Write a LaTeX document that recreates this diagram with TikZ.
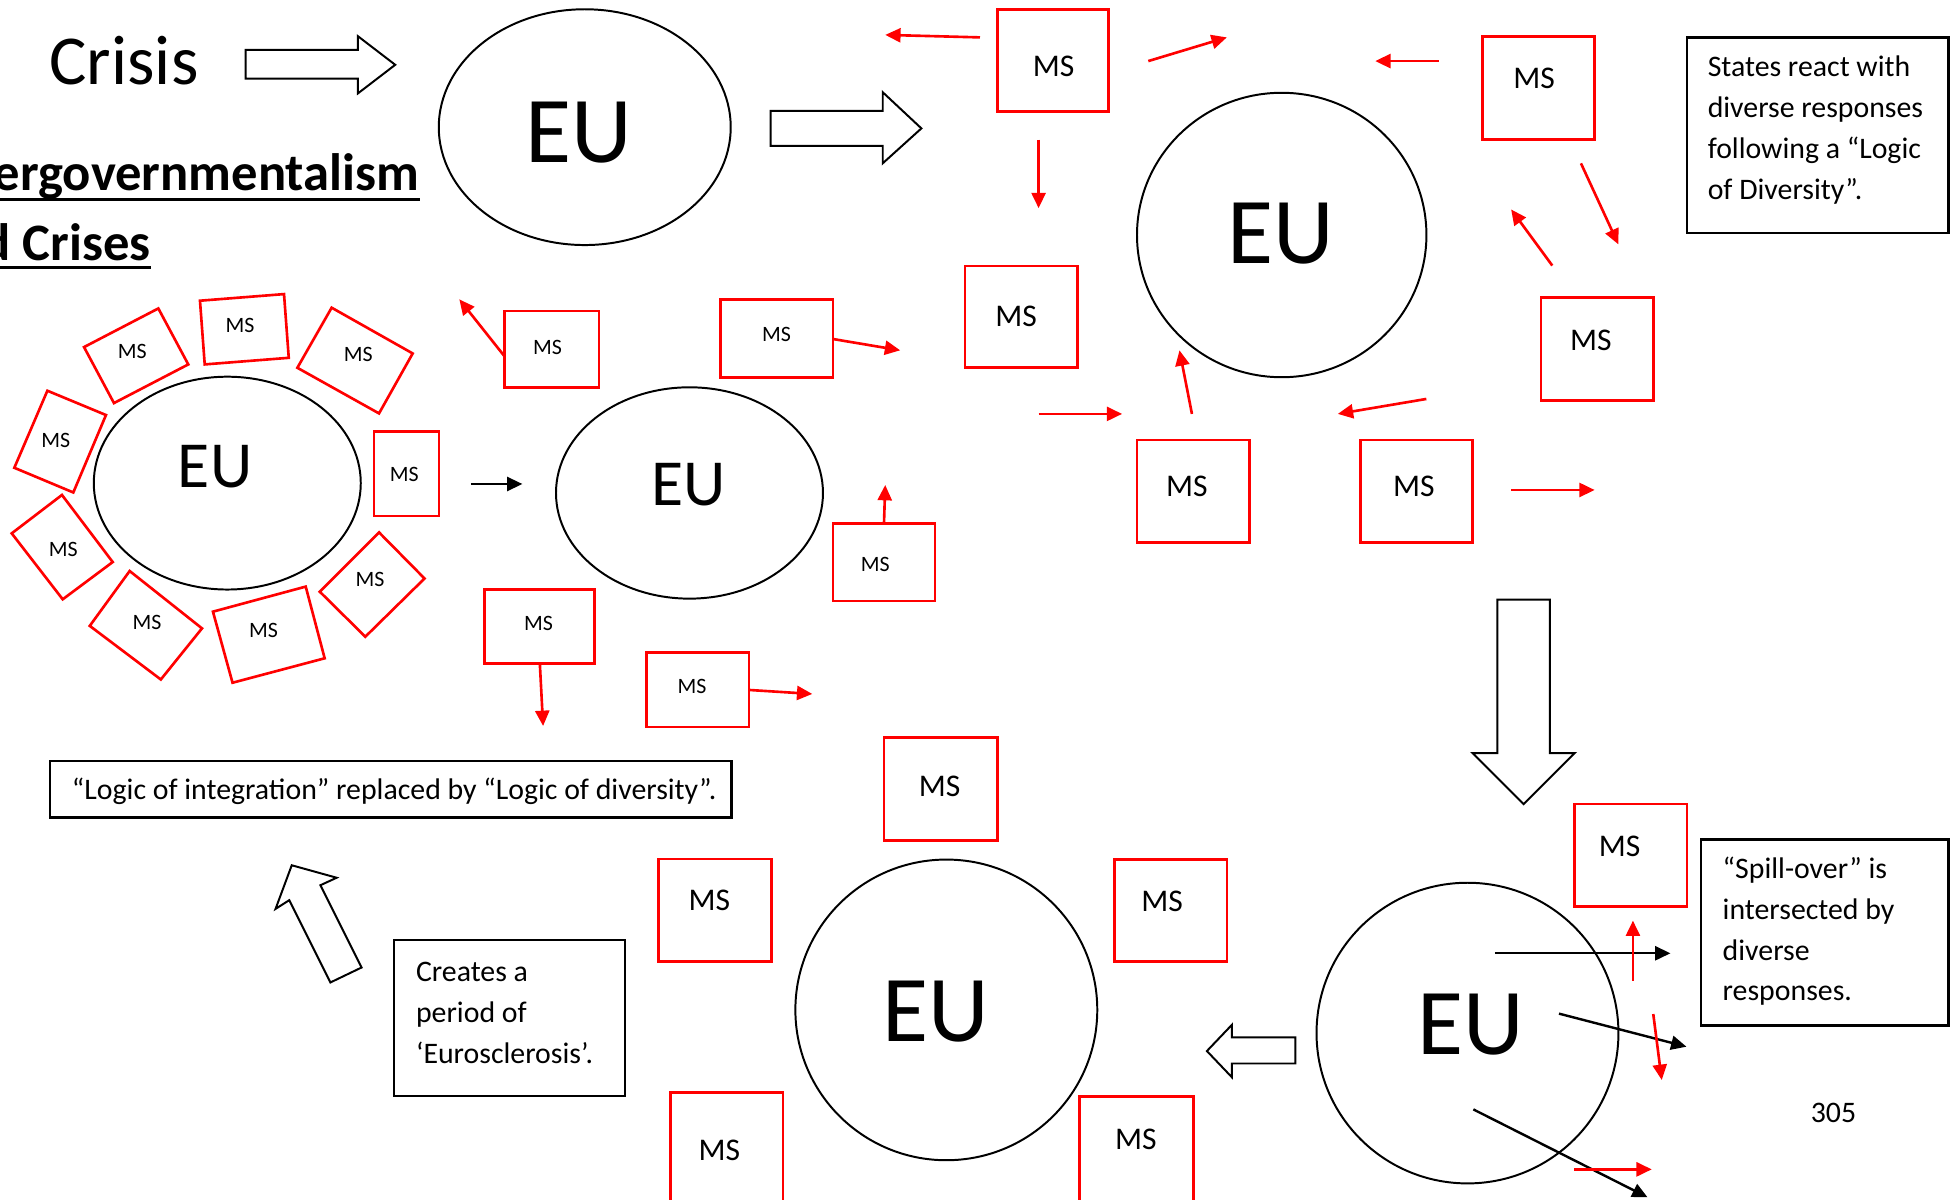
\documentclass[tikz,border=0pt]{standalone}
\usepackage{fontspec}
\setmainfont{Carlito}
\usetikzlibrary{arrows.meta}

\begin{document}
\begin{tikzpicture}[x=0.01cm, y=-0.01cm,
    msline/.style={draw=red, line width=0.6pt},
    msbig/.style={font=\fontsize{7.2}{8.5}\selectfont, inner sep=0pt},
    mssmall/.style={font=\fontsize{5}{6}\selectfont, inner sep=0pt},
    eubig/.style={font=\fontsize{21.5}{25}\selectfont, inner sep=0pt},
    eusmall/.style={font=\fontsize{15}{18}\selectfont, inner sep=0pt},
    euline/.style={draw=black, line width=0.45pt},
    redarrow/.style={draw=red, line width=0.6pt, -{Triangle[length=3.5pt, width=3.2pt]}},
    blackarrow/.style={draw=black, line width=0.55pt, -{Triangle[length=3.5pt, width=3.2pt]}},
    hollow/.style={draw=black, line width=0.45pt},
    notebox/.style={draw=black, line width=0.6pt},
    notetext/.style={font=\fontsize{6.8}{9.3}\selectfont, align=left, anchor=north west, inner sep=0pt},
    titlefont/.style={font=\bfseries\fontsize{12}{14}\selectfont, anchor=base east, inner sep=0pt}]
  \useasboundingbox (0,0) rectangle (1568,962);
  \clip (0,0) rectangle (1568,962);

  % heading
  \node[font=\fontsize{16}{19}\selectfont, anchor=base, inner sep=0pt] (crisis) at (99.5,68) {Crisis};
  \node[titlefont] (titleA) at (337,152.5) {ergovernmentalism};
  \node[titlefont] (titleB) at (121.5,208.6) {d Crises};
  \coordinate (ulA) at (0,160);
  \coordinate (ulB) at (0,214.5);
  \draw[line width=0.75pt] (ulA) -- (titleA.east |- ulA);
  \draw[line width=0.75pt] (ulB) -- (titleB.east |- ulB);

  % block arrows
  \draw[hollow] (197,40) -- (287,40) -- (287,29) -- (317,52) -- (287,75) -- (287,63) -- (197,63) -- cycle;
  \draw[hollow] (618,89) -- (708,89) -- (708,74) -- (739,103) -- (708,131) -- (708,117) -- (618,117) -- cycle;
  \draw[hollow] (1201,481) -- (1243,481) -- (1243,604) -- (1263,604) -- (1222,645) -- (1181,604) -- (1201,604) -- cycle;
  \draw[hollow] (1039,832) -- (988,832) -- (988,822) -- (968,843) -- (988,864) -- (988,853) -- (1039,853) -- cycle;
  \draw[hollow] (290,776) -- (257,710) -- (270,704) -- (234,694) -- (221,729) -- (232,722) -- (265,788) -- cycle;

  % EU circles
  \draw[euline] (469,102) ellipse [x radius=1.17cm, y radius=0.945cm];
  \node[eubig] (euTop) at (464,106) {EU};
  \draw[euline] (1028,188.5) ellipse [x radius=1.16cm, y radius=1.14cm];
  \node[eubig] (euRight) at (1027,187) {EU};
  \draw[euline] (759,810) ellipse [x radius=1.21cm, y radius=1.205cm];
  \node[eubig] (euBottom) at (750.5,811) {EU};
  \draw[euline] (1177,828.6) ellipse [x radius=1.21cm, y radius=1.205cm];
  \node[eubig] (euCorner) at (1180,821.6) {EU};
  \draw[euline] (182.3,387.5) ellipse [x radius=1.07cm, y radius=0.853cm];
  \node[eusmall] (euRing) at (172.5,374.4) {EU};
  \draw[euline] (553,395.4) ellipse [x radius=1.07cm, y radius=0.847cm];
  \node[eusmall] (euMiddle) at (552,389) {EU};

  % ring of member states
  \draw[msline] (67.4,278.4) -- (127,247.4) -- (151,292.3) -- (91.4,323.3) -- cycle;
  \node[mssmall] (ringA) at (106.1,281.6) {MS};
  \draw[msline] (160.4,241.2) -- (227.8,235.9) -- (231.6,287) -- (164.2,292.3) -- cycle;
  \node[mssmall] (ringB) at (192.5,261.3) {MS};
  \draw[msline] (266,246.8) -- (331,283.5) -- (304,331.6) -- (238.5,295) -- cycle;
  \node[mssmall] (ringC) at (287.4,284.3) {MS};
  \draw[msline] (38,313.4) -- (85,332.9) -- (58.8,395) -- (11.5,375.2) -- cycle;
  \node[mssmall] (ringD) at (44.7,353) {MS};
  \draw[msline] (300,346) rectangle (352,414);
  \node[mssmall] (ringE) at (324.3,380.2) {MS};
  \draw[msline] (9.4,427.8) -- (49.7,397) -- (90.4,450.8) -- (50.3,480.7) -- cycle;
  \node[mssmall] (ringF) at (50.8,440.6) {MS};
  \draw[msline] (304,427) -- (340.5,464) -- (293,510.7) -- (256.5,474.6) -- cycle;
  \node[mssmall] (ringG) at (296.8,464.7) {MS};
  \draw[msline] (104,458) -- (162,504) -- (129,545) -- (72,502) -- cycle;
  \node[mssmall] (ringH) at (118,499) {MS};
  \draw[msline] (170.8,490.6) -- (245.2,470.5) -- (260.4,528) -- (186.5,547.6) -- cycle;
  \node[mssmall] (ringI) at (211.3,505.8) {MS};
  \draw[blackarrow] (377.7,388.2) -- (419,388.2);

  % states moving apart
  \draw[msline] (404.5,249.5) rectangle (480.4,311);
  \node[mssmall] (apartA) at (439.2,278.6) {MS};
  \draw[redarrow] (404.5,285.6) -- (368.4,240.1);
  \draw[msline] (577.7,240.4) rectangle (668,303);
  \node[mssmall] (apartB) at (622.8,268.4) {MS};
  \draw[redarrow] (668.5,272) -- (722,281);
  \draw[msline] (668,420) rectangle (750,482);
  \node[mssmall] (apartC) at (702,452.8) {MS};
  \draw[redarrow] (709,420) -- (710,389);
  \draw[msline] (388.7,472.7) rectangle (477,532);
  \node[mssmall] (apartD) at (432,500) {MS};
  \draw[redarrow] (433,532.6) -- (435.6,582.3);
  \draw[msline] (518.7,523.5) rectangle (600.8,583);
  \node[mssmall] (apartE) at (555,550.8) {MS};
  \draw[redarrow] (600.8,553.4) -- (651.5,556.6);

  % states around the second EU
  \draw[msline] (800,7.5) rectangle (889,89.5);
  \node[msbig] (sideA) at (845,53.5) {MS};
  \draw[redarrow] (786,30) -- (710,28);
  \draw[redarrow] (921,49) -- (984,30);
  \draw[redarrow] (833,112) -- (833,167);
  \draw[msline] (774,213.5) rectangle (864,295);
  \node[msbig] (sideB) at (815,253.5) {MS};
  \draw[msline] (1189,29.5) rectangle (1279,112);
  \node[msbig] (sideC) at (1230.4,62.8) {MS};
  \draw[redarrow] (1154,49) -- (1103,49);
  \draw[redarrow] (1268,131) -- (1298,196);
  \draw[msline] (1236,238.7) rectangle (1326,321);
  \node[msbig] (sideD) at (1276,273) {MS};
  \draw[redarrow] (1245,213) -- (1212,168);
  \draw[msline] (912,353) rectangle (1002,435);
  \node[msbig] (sideE) at (952,390) {MS};
  \draw[redarrow] (833,332) -- (900,332);
  \draw[redarrow] (956,332) -- (946,281);
  \draw[msline] (1091,353) rectangle (1181,435);
  \node[msbig] (sideF) at (1134,390) {MS};
  \draw[redarrow] (1144,320) -- (1073,332);
  \draw[redarrow] (1212,393) -- (1279,393);

  % states around the third EU
  \draw[msline] (709,591.5) rectangle (800,674);
  \node[msbig] (lowA) at (753.7,630.4) {MS};
  \draw[msline] (528,689) rectangle (618.8,771);
  \node[msbig] (lowB) at (569,722) {MS};
  \draw[msline] (894,689.5) rectangle (984,771);
  \node[msbig] (lowC) at (932,722.7) {MS};
  \draw[msline] (538,876) rectangle (628,980);
  \node[msbig] (lowD) at (577,923) {MS};
  \draw[msline] (866,879.7) rectangle (957,980);
  \node[msbig] (lowE) at (911,914) {MS};

  % spill-over cut through
  \draw[msline] (1263,645) rectangle (1353,727);
  \node[msbig] (spillMS) at (1299,679) {MS};
  \draw[blackarrow] (1199,764.6) -- (1339.8,764.6);
  \draw[redarrow] (1309.7,786.8) -- (1309.7,738.4);
  \draw[blackarrow] (1250.4,813) -- (1352.6,839.5);
  \draw[redarrow] (1326,813.3) -- (1332.8,866.2);
  \draw[blackarrow] (1181.7,889.8) -- (1321.4,960.3);
  \draw[redarrow] (1262.8,937.9) -- (1324.8,937.9);

  % notes
  \draw[notebox] (1353,30) rectangle (1563,187);
  \node[notetext] (noteStates) at (1369,38.1) {\strut States react with\\\strut diverse responses\\\strut following a “Logic\\\strut of Diversity”.};
  \draw[notebox] (40,610.4) rectangle (586.7,655.8);
  \node[font=\fontsize{6.8}{9.3}\selectfont, anchor=base west, inner sep=0pt] (noteLogic) at (57,641.5) {“Logic of integration” replaced by “Logic of diversity”.};
  \draw[notebox] (316,754) rectangle (501.3,879);
  \node[notetext] (noteCreates) at (333,763.6) {\strut Creates a\\\strut period of\\\strut ‘Eurosclerosis’.};
  \draw[notebox] (1364.3,673.2) rectangle (1563,822.6);
  \node[notetext] (noteSpill) at (1381,681) {\strut “Spill-over” is\\\strut intersected by\\\strut diverse\\\strut responses.};
  \node[font=\fontsize{6.8}{9.3}\selectfont, anchor=base, inner sep=0pt] (pageNo) at (1470.5,900.6) {305};
\end{tikzpicture}
\end{document}
